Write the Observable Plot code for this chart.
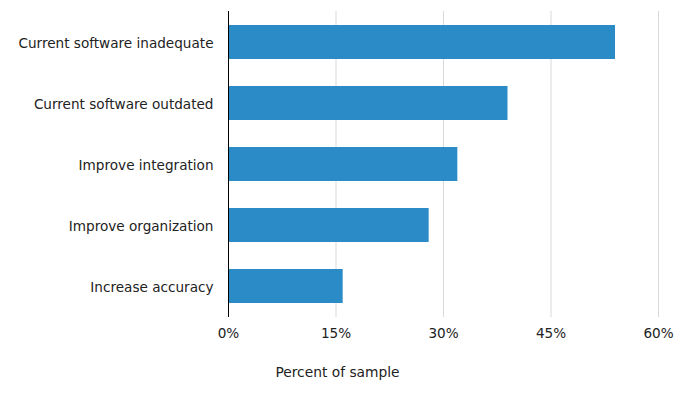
<!DOCTYPE html>
<html>
<head>
<meta charset="utf-8">
<script src="https://cdn.jsdelivr.net/npm/d3@7"></script>
<script src="https://cdn.jsdelivr.net/npm/@observablehq/plot@0.6"></script>
<style>
  body { margin: 0; background: #fff; }
  #chart { width: 675px; }
  .xlabel { width: 675px; text-align: center; font-family: "DejaVu Sans", sans-serif; font-size: 13.8px; line-height: 16px; color: #222; padding-top: 14px; }
</style>
</head>
<body>
<div id="chart"></div>
<script>
const categories = [
  "Current software inadequate",
  "Current software outdated",
  "Improve integration",
  "Improve organization",
  "Increase accuracy"
];
const values = [54, 39, 32, 28, 16];
const xTicks = [0, 15, 30, 45, 60];
const xLabel = "Percent of sample";

const data = categories.map((c, i) => ({category: c, value: values[i]}));

const chart = Plot.plot({
  width: 675,
  height: 350,
  marginTop: 11,
  marginBottom: 33,
  marginLeft: 228,
  marginRight: 17,
  style: { fontFamily: "DejaVu Sans, sans-serif", fontSize: "13.6px", color: "#222", background: "#fff" },
  x: { domain: [0, 60], ticks: xTicks, tickFormat: d => d + "%", label: null },
  y: { domain: categories, paddingInner: 0.45, paddingOuter: 0.225, label: null },
  marks: [
    Plot.gridX(xTicks.filter(d => d > 0), { stroke: "#d9d9d9", strokeOpacity: 1 }),
    Plot.barX(data, { x: "value", y: "category", fill: "#2a8bc6" }),
    Plot.ruleX([0], { stroke: "#000", strokeWidth: 1 }),
    Plot.axisX({ ticks: xTicks, tickSize: 0, tickPadding: 11, tickFormat: d => d + "%", label: null, fontSize: 13.6 }),
    Plot.axisY({ tickSize: 0, tickPadding: 15, label: null, fontSize: 13.6, dy: 1 })
  ]
});
document.getElementById("chart").appendChild(chart);
const lab = document.createElement("div");
lab.className = "xlabel";
lab.textContent = xLabel;
document.body.appendChild(lab);
</script>
</body>
</html>
